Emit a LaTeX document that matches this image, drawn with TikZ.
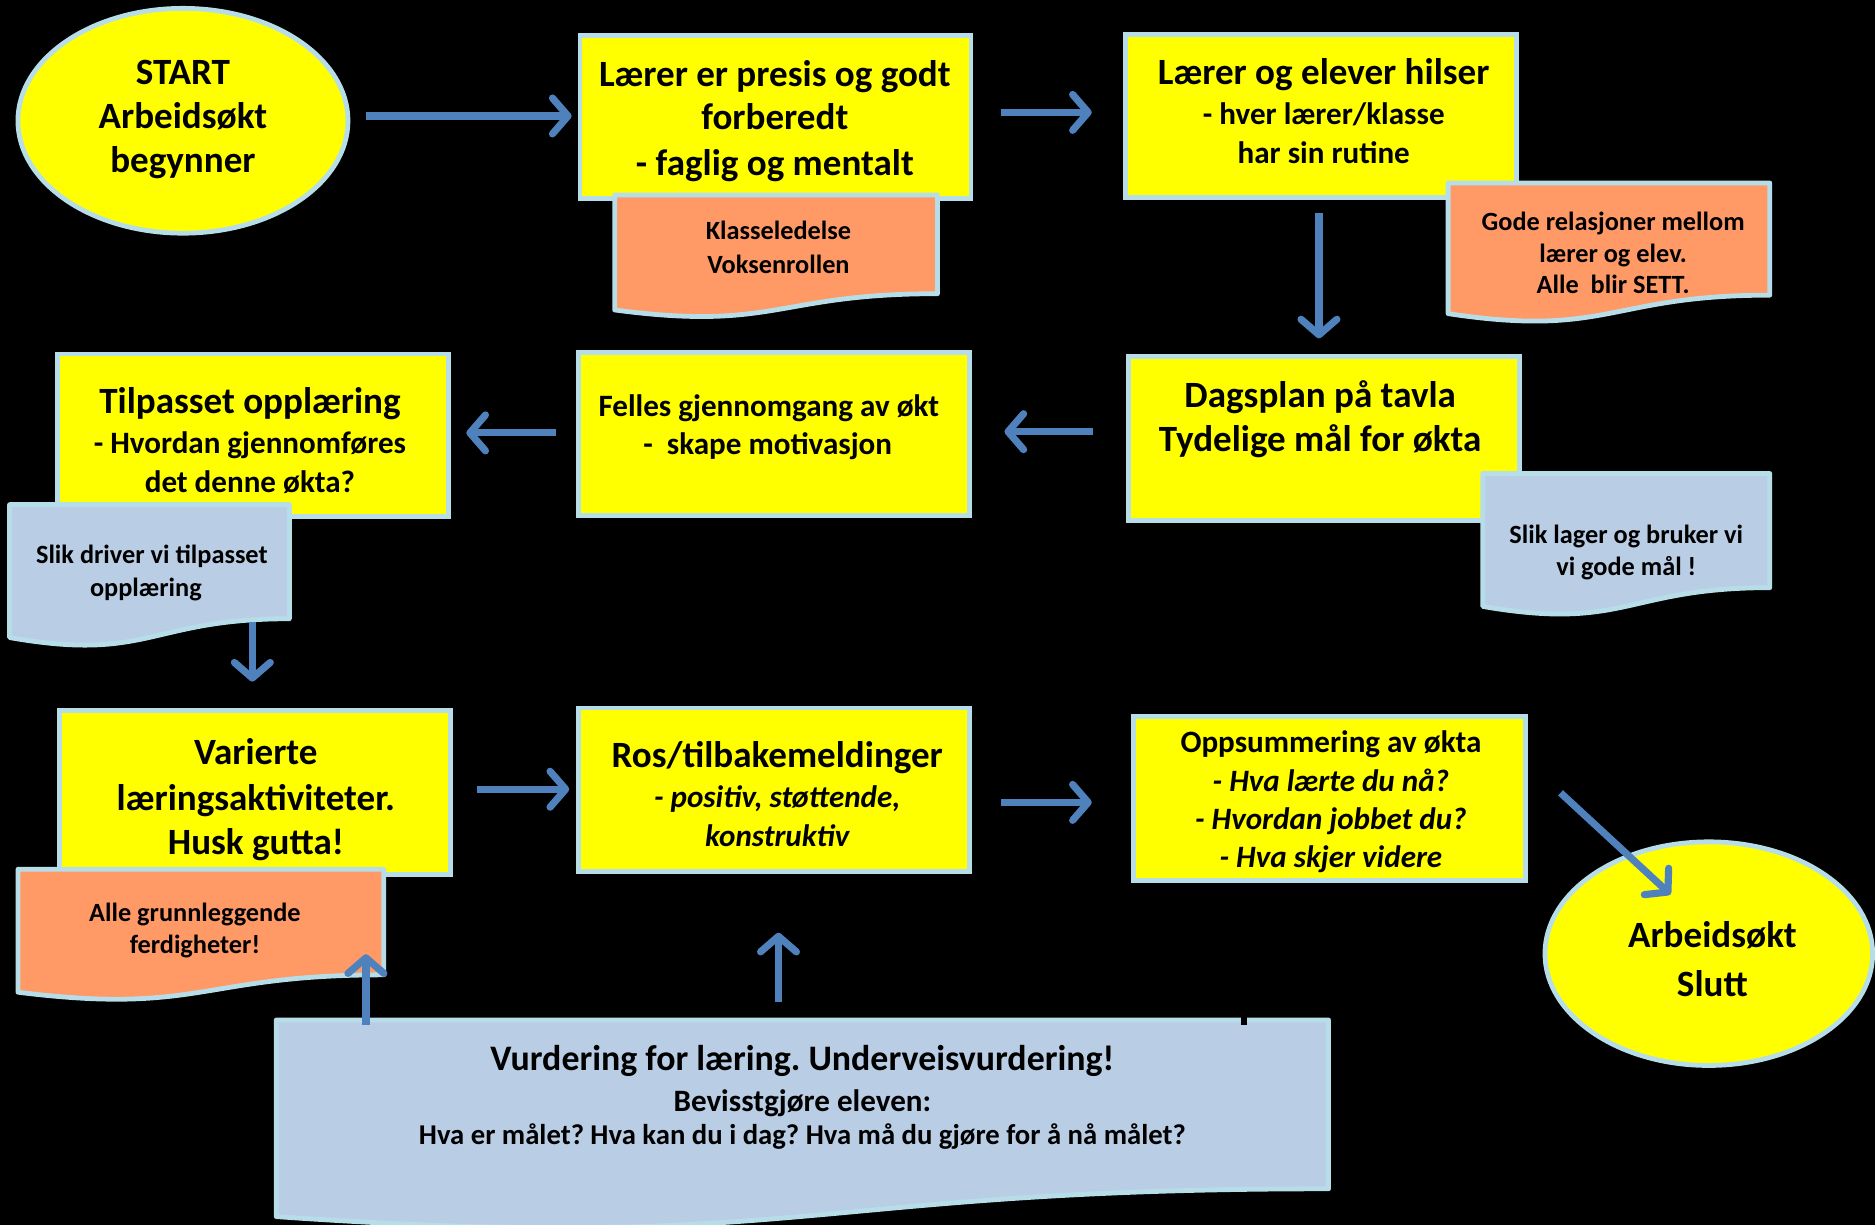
\documentclass[tikz,border=0pt]{standalone}
\usepackage{fontspec}
\setmainfont{Carlito}
\usetikzlibrary{shapes.geometric,arrows.meta}
\frenchspacing
\definecolor{ylw}{RGB}{255,255,0}
\definecolor{bord}{RGB}{183,222,232}
\definecolor{arrblue}{RGB}{79,129,189}
\definecolor{orng}{RGB}{255,153,102}
\definecolor{lblue}{RGB}{185,205,229}
\newcommand{\docshape}[6]{%
  \draw[docb, fill=#6] (#2,#3) -- ({#2+#4},#3) -- ({#2+#4},{#3+0.802*#5})
    .. controls ({#2+0.5*#4},{#3+0.802*#5}) and ({#2+0.5*#4},{#3+1.1075*#5}) .. (#2,{#3+0.934*#5}) -- cycle;
  \node[inner sep=0, outer sep=0, minimum width=#4, minimum height=#5, anchor=north west] (#1) at (#2,#3) {};
}
\begin{document}
\begin{tikzpicture}[x=1pt,y=-1pt,
  ybox/.style={rectangle, draw=bord, line width=4pt, fill=ylw, inner sep=0},
  yell/.style={ellipse, draw=bord, line width=4pt, fill=ylw, inner sep=0},
  docb/.style={draw=bord, line width=4pt, line join=round},
  arr/.style={draw=arrblue, line width=6pt, -{Straight Barb[length=13pt,width=30pt,round]}},
  txt/.style={anchor=base, inner sep=0, outer sep=0, text=black, yshift=-3.5pt},
  big/.style={txt, font=\fontsize{31}{38}\selectfont\bfseries},
  bigv/.style={txt, font=\fontsize{30}{36}\selectfont\bfseries},
  mid/.style={txt, font=\fontsize{26}{32}\selectfont\bfseries},
  midit/.style={txt, font=\fontsize{26}{32}\selectfont\bfseries\itshape},
  sml/.style={txt, font=\fontsize{22}{27}\selectfont\bfseries},
  smlq/.style={txt, font=\fontsize{24}{29}\selectfont\bfseries},
]
\path[use as bounding box, fill=black] (0,0) rectangle (1568,1024);

% shapes
\node[yell, minimum width=276, minimum height=188] (start) at (153,101) {};
\node[ybox, minimum width=327, minimum height=136] (A) at (648.5,98) {};
\docshape{klasse}{514}{163}{270}{103}{orng}
\node[ybox, minimum width=327, minimum height=136] (B) at (1104.5,97) {};
\docshape{gode}{1211}{153}{269}{117}{orng}
\node[ybox, minimum width=327, minimum height=137] (C) at (1107.5,366.5) {};
\docshape{slikLager}{1240}{396}{240}{119}{lblue}
\node[ybox, minimum width=327, minimum height=136] (D) at (647.5,363) {};
\node[ybox, minimum width=327, minimum height=136] (E) at (211.5,364) {};
\docshape{slikDriver}{8}{422}{234}{119}{lblue}
\node[ybox, minimum width=327, minimum height=137] (F) at (213.5,662.5) {};
\docshape{alle}{15}{727}{306}{110}{orng}
\node[ybox, minimum width=327, minimum height=137] (G) at (647.5,660.5) {};
\node[ybox, minimum width=328, minimum height=137] (H) at (1112,667.5) {};
\node[yell, minimum width=274, minimum height=187] (endn) at (1429,797.5) {};
\docshape{vurd}{231}{853}{880}{176}{lblue}
\fill[black] (1038,847) rectangle (1043,857);

% texts
\node[big] (t1) at (153,67) {START};
\node[big] (t2) at (153,104) {Arbeidsøkt};
\node[big] (t3) at (153,141) {begynner};

\node[big] (a1) at (648,69) {Lærer er presis og godt};
\node[big] (a2) at (648,105) {forberedt};
\node[big] (a3) at (648,143) {- faglig og mentalt};

\node[sml] (k1) at (651,197) {Klasseledelse};
\node[sml] (k2) at (651,225) {Voksenrollen};

\node[big] (b1) at (1107,67) {Lærer og elever hilser};
\node[mid] (b2) at (1107,101) {- hver lærer/klasse};
\node[mid] (b3) at (1107,133) {har sin rutine};

\node[sml] (g1) at (1349,189) {Gode relasjoner mellom};
\node[sml] (g2) at (1349,216) {lærer og elev.};
\node[sml] (g3) at (1349,242) {Alle\ \ blir SETT.};

\node[big] (c1) at (1104,337) {Dagsplan på tavla};
\node[big] (c2) at (1104,374) {Tydelige mål for økta};

\node[sml] (l1) at (1360,451) {Slik lager og bruker vi};
\node[sml] (l2) at (1360,478) {vi gode mål !};

\node[mid] (d1) at (643,345) {Felles gjennomgang av økt};
\node[mid] (d2) at (642,377) {-\ \ skape motivasjon};

\node[big] (e1) at (209,342) {Tilpasset opplæring};
\node[mid] (e2) at (209,376) {- Hvordan gjennomføres};
\node[mid] (e3) at (209,408) {det denne økta?};

\node[sml] (s1) at (127,468) {Slik driver vi tilpasset};
\node[sml] (s2) at (122,495) {opplæring};

\node[big] (f1) at (214,636) {Varierte};
\node[big] (f2) at (214,674) {læringsaktiviteter.};
\node[big] (f3) at (214,711) {Husk gutta!};

\node[sml] (al1) at (163,767) {Alle grunnleggende};
\node[sml] (al2) at (163,794) {ferdigheter!};

\node[big] (r1) at (650,638) {Ros/tilbakemeldinger};
\node[midit] (r2) at (650,672) {- positiv, støttende,};
\node[midit] (r3) at (650,704) {konstruktiv};

\node[mid] (h1) at (1113,626) {Oppsummering av økta};
\node[midit] (h2) at (1113,658) {- Hva lærte du nå?};
\node[midit] (h3) at (1113,690) {- Hvordan jobbet du?};
\node[midit] (h4) at (1113,722) {- Hva skjer videre};

\node[big] (n1) at (1432,789) {Arbeidsøkt};
\node[big] (n2) at (1432,830) {Slutt};

\node[bigv] (v1) at (671,892) {Vurdering for læring. Underveisvurdering!};
\node[mid] (v2) at (671,926) {Bevisstgjøre eleven:};
\node[smlq] (v3) at (671,954) {Hva er målet? Hva kan du i dag? Hva må du gjøre for å nå målet?};

% arrows
\draw[arr] ([shift={(13,-4)}]start.east) -- ([shift={(-5,-1)}]A.west);
\draw[arr] ([shift={(23,-4)}]A.east) -- ([shift={(-26,-3)}]B.west);
\draw[arr] ([shift={(-1.5,11)}]B.south) -- ([shift={(-4.5,-13)}]C.north);
\draw[arr] ([shift={(-28,-5.5)}]C.west) -- ([shift={(27,-2)}]D.east);
\draw[arr] ([shift={(-17,-1)}]D.west) -- ([shift={(13,-2)}]E.east);
\draw[arr] ([shift={(-31,-21)}]slikDriver.south east) -- ([shift={(-2.5,-22)}]F.north);
\draw[arr] ([shift={(20,-2.5)}]F.east) -- ([shift={(-6,-0.5)}]G.west);
\draw[arr] ([shift={(24,10.5)}]G.east) -- ([shift={(-33,3.5)}]H.west);
\draw[arr] ([shift={(27,-4.5)}]H.east) -- ([shift={(-32,-49.5)}]endn.center);
\draw[arr] ([shift={(75,4)}]vurd.north west) -- ([shift={(-15,-39)}]alle.south east);
\draw[arr] ([shift={(-20,-15)}]vurd.north) -- ([shift={(3.5,49)}]G.south);
\end{tikzpicture}
\end{document}
